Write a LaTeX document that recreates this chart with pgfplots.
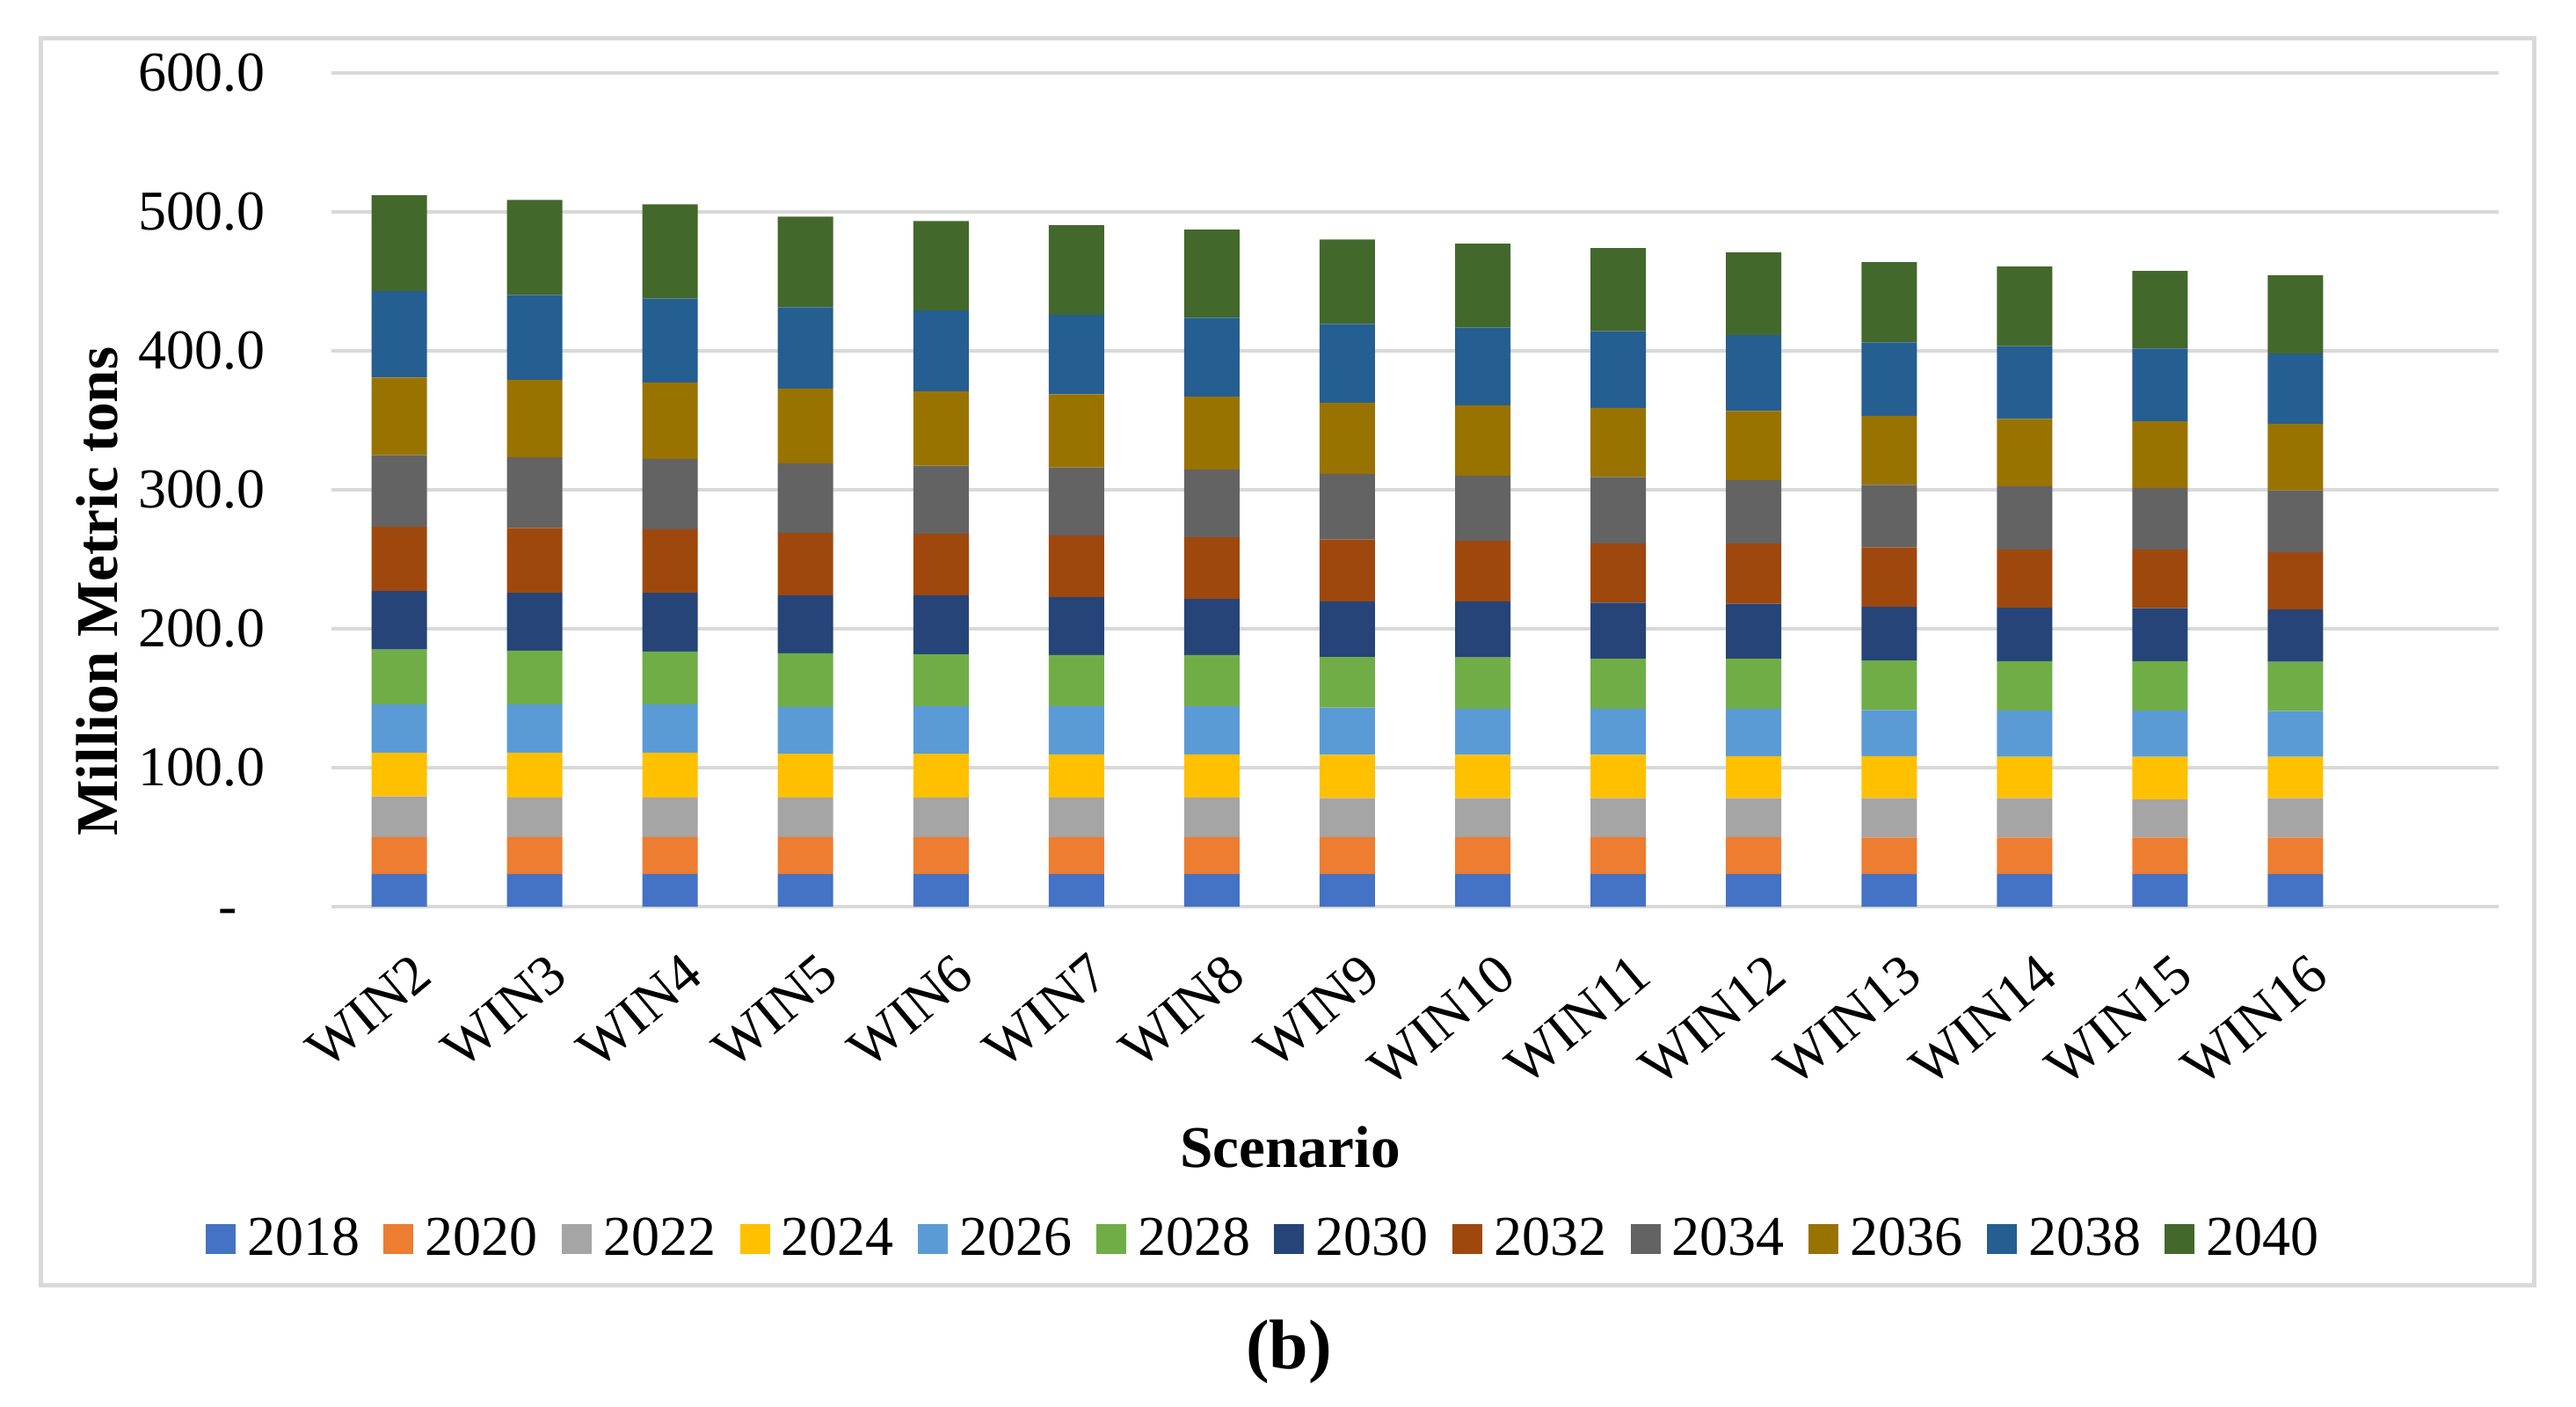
\documentclass[border=0pt]{standalone}
\usepackage{fontspec}
\setmainfont{Liberation Serif}
\usepackage{pgfplots}
\usepackage{pgfplotstable}
\pgfplotsset{compat=1.18}
\definecolor{gridc}{HTML}{D9D9D9}
\definecolor{c18}{HTML}{4472C4}
\definecolor{c20}{HTML}{ED7D31}
\definecolor{c22}{HTML}{A5A5A5}
\definecolor{c24}{HTML}{FFC000}
\definecolor{c26}{HTML}{5B9BD5}
\definecolor{c28}{HTML}{70AD47}
\definecolor{c30}{HTML}{264478}
\definecolor{c32}{HTML}{9E480E}
\definecolor{c34}{HTML}{636363}
\definecolor{c36}{HTML}{997300}
\definecolor{c38}{HTML}{255E91}
\definecolor{c40}{HTML}{43682B}
\newcommand{\fs}{\fontsize{16pt}{19pt}\selectfont}
\newcommand{\fl}{\fontsize{16.8pt}{20pt}\selectfont}

\pgfplotstableread{
x  a    b    c    d    e    f    g    h    i    j    k    l
0  23.5 26.6 29.3 31.5 34.7 39.5 42.1 46.2 51.5 55.9 62.1 69.2
1  23.5 26.6 28.5 32.3 34.7 38.6 41.7 46.6 51.0 55.5 61.2 68.4
2  23.5 26.6 28.5 32.3 34.7 38.1 42.2 45.7 50.6 55.0 60.4 67.9
3  23.5 26.6 28.5 31.5 33.7 38.6 41.7 44.8 50.2 53.7 58.6 65.2
4  23.5 26.6 28.5 31.5 34.1 37.3 42.6 44.4 48.8 53.7 58.1 64.4
5  23.5 26.6 28.5 31.0 34.6 36.9 41.7 44.4 48.8 52.8 57.2 64.4
6  23.5 26.6 28.5 31.0 34.6 36.9 40.4 44.3 48.8 52.4 56.8 63.5
7  23.5 26.6 28.0 31.1 34.1 36.4 40.0 44.4 47.4 51.1 56.8 60.8
8  23.5 26.6 28.0 31.1 33.3 36.8 40.4 43.5 47.0 50.6 55.9 60.4
9  23.5 26.6 28.0 31.1 33.3 35.9 40.4 42.6 47.9 49.7 55.1 59.9
10 23.5 26.6 28.0 30.2 34.2 35.9 39.5 43.5 45.7 49.7 54.6 59.5
11 23.5 26.2 28.4 30.2 33.3 35.5 38.6 43.0 44.9 49.7 52.8 57.7
12 23.5 26.2 28.4 29.7 33.3 35.5 38.6 41.8 45.7 48.3 52.4 57.3
13 23.5 26.2 27.5 30.6 33.3 35.5 38.2 42.2 44.3 48.0 52.3 56.0
14 23.5 26.2 28.4 29.7 32.9 35.5 37.7 41.3 44.4 47.9 50.6 56.3
}\data

\begin{document}
\begin{tikzpicture}
\path[use as bounding box] (0,0) rectangle (732.5pt,399.75pt);
\fill[white] (0,0) rectangle (732.5pt,399.75pt);
\draw[color=gridc, line width=1.25pt] (11.6pt,34.5pt) rectangle (720.6pt,388.9pt);
\begin{axis}[
  at={(94.25pt,142pt)}, anchor=south west,
  scale only axis, width=616.25pt, height=237pt,
  ybar stacked, bar width=15.75pt,
  xmin=-0.5, xmax=15.5, ymin=0, ymax=600,
  enlargelimits=false,
  xtick={0,...,14},
  xticklabels={WIN2,WIN3,WIN4,WIN5,WIN6,WIN7,WIN8,WIN9,WIN10,WIN11,WIN12,WIN13,WIN14,WIN15,WIN16},
  ytick={0,100,200,300,400,500,600},
  yticklabels={{\vphantom{0}-\rule{7.8pt}{0pt}},100.0,200.0,300.0,400.0,500.0,600.0},
  ymajorgrids, major grid style={color=gridc, line width=1pt},
  axis line style={draw=none}, tick style={draw=none}, major tick length=0pt,
  tick label style={font=\fs},
  yticklabel style={anchor=east, inner sep=0pt, xshift=-18.75pt},
  xticklabel style={inner sep=0pt, xshift=3.25pt, yshift=-12.5pt, rotate=40, anchor=north east},
  xlabel={\textbf{Scenario}},
  xlabel style={at={(axis description cs:0.4424,-0.289)}, anchor=center, font=\fl},
  ylabel={\textbf{Million Metric tons}},
  ylabel style={at={(axis description cs:-0.1083,0.378)}, anchor=center, font=\fl},
  legend columns=12,
  legend style={at={(axis description cs:0.4295,-0.399)}, anchor=center, draw=none, fill=none,
    font=\fs, inner sep=0pt, nodes={inner sep=0pt},
    /tikz/every odd column/.append style={column sep=3.3pt},
    /tikz/every even column/.append style={column sep=6.85pt}},
  legend image code/.code={\fill[#1,/tikz/.cd,draw=none] (0pt,-4.25pt) rectangle (8.5pt,4.25pt);},
]
\addplot[fill=c18, draw=none] table[x=x,y=a]{\data};
\addplot[fill=c20, draw=none] table[x=x,y=b]{\data};
\addplot[fill=c22, draw=none] table[x=x,y=c]{\data};
\addplot[fill=c24, draw=none] table[x=x,y=d]{\data};
\addplot[fill=c26, draw=none] table[x=x,y=e]{\data};
\addplot[fill=c28, draw=none] table[x=x,y=f]{\data};
\addplot[fill=c30, draw=none] table[x=x,y=g]{\data};
\addplot[fill=c32, draw=none] table[x=x,y=h]{\data};
\addplot[fill=c34, draw=none] table[x=x,y=i]{\data};
\addplot[fill=c36, draw=none] table[x=x,y=j]{\data};
\addplot[fill=c38, draw=none] table[x=x,y=k]{\data};
\addplot[fill=c40, draw=none] table[x=x,y=l]{\data};
\legend{2018,2020,2022,2024,2026,2028,2030,2032,2034,2036,2038,2040}
\end{axis}
\node[font=\fontsize{20pt}{24pt}\selectfont\bfseries] at (366.5pt,15.5pt) {(b)};
\end{tikzpicture}
\end{document}
